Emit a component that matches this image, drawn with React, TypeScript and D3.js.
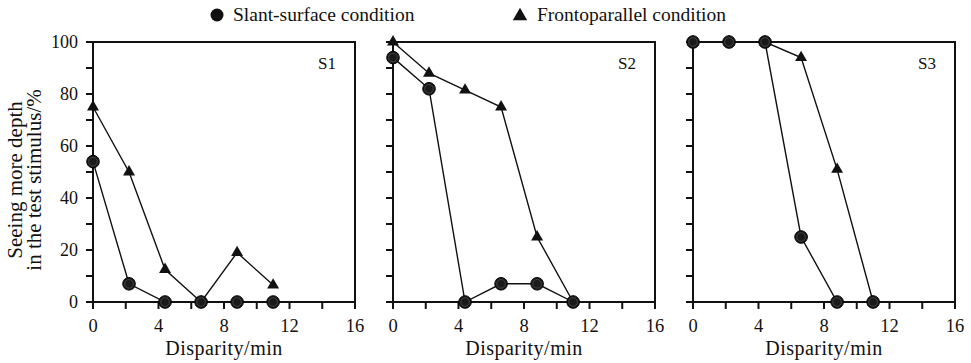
import { useEffect, useState } from "react";
import * as d3 from "d3";

const disparity = [0, 2.2, 4.4, 6.6, 8.8, 11];
const subjects = ["S1", "S2", "S3"];
const slantValues = [
  [54, 7, 0, 0, 0, 0],
  [94, 82, 0, 7, 7, 0],
  [100, 100, 100, 25, 0, 0],
];
const frontoValues = [
  [75, 50, 12.5, 0, 19, 6.5],
  [100, 88, 81.5, 75, 25, 0],
  [100, 100, 100, 94, 51, 0],
];
const xMajor = [0, 4, 8, 12, 16];
const xMinor = [2, 6, 10, 14];
const yMajor = [0, 20, 40, 60, 80, 100];
const yMinor = [10, 30, 50, 70, 90];
const legendLabels = ["Slant-surface condition", "Frontoparallel condition"];

const width = 971;
const height = 363;
const panelLeft = 93;
const panelWidth = 262;
const panelGap = 38;
const plotTop = 42;
const plotBottom = 302;
const serifName = "Liberation Serif";
const serif = { fontFamily: '"Liberation Serif"' };

const triangle = d3.symbol().type(d3.symbolTriangle).size(62)();

const Label = (props: any) => <text fontFamily={serifName} style={serif} {...props} />;

const Panel = ({ index }: { index: number }) => {
  const x0 = panelLeft + index * (panelWidth + panelGap);
  const x = d3.scaleLinear().domain([0, 16]).range([x0, x0 + panelWidth]);
  const y = d3.scaleLinear().domain([0, 100]).range([plotBottom, plotTop]);
  const line = d3
    .line<number>()
    .x((_, i) => x(disparity[i]))
    .y((d) => y(d));

  return (
    <g>
      {/* frame */}
      <rect
        x={x(0)}
        y={y(100)}
        width={x(16) - x(0)}
        height={y(0) - y(100)}
        fill="none"
        stroke="#111"
        strokeWidth={2}
      />
      {/* ticks */}
      {[...xMajor, ...xMinor].map((t) => (
        <line key={"x" + t} x1={x(t)} x2={x(t)} y1={plotBottom} y2={plotBottom + 7} stroke="#111" strokeWidth={2} />
      ))}
      {[...yMajor, ...yMinor].map((t) => (
        <line key={"y" + t} x1={x(0) - 7} x2={x(0)} y1={y(t)} y2={y(t)} stroke="#111" strokeWidth={2} />
      ))}
      {xMajor.map((t) => (
        <Label key={"xl" + t} x={x(t)} y={plotBottom + 30} textAnchor="middle" fontSize={18.5}>
          {t}
        </Label>
      ))}
      {index === 0 &&
        yMajor.map((t) => (
          <Label key={"yl" + t} x={x(0) - 15} y={y(t) + 6} textAnchor="end" fontSize={18}>
            {t}
          </Label>
        ))}
      <Label x={(x(0) + x(16)) / 2} y={plotBottom + 53} textAnchor="middle" fontSize={20} letterSpacing={0.5}>
        Disparity/min
      </Label>
      <Label x={x(16) - 19} y={69} textAnchor="end" fontSize={17}>
        {subjects[index]}
      </Label>

      {/* series */}
      <path d={line(frontoValues[index]) ?? ""} fill="none" stroke="#111" strokeWidth={1.4} />
      <path d={line(slantValues[index]) ?? ""} fill="none" stroke="#111" strokeWidth={1.4} />
      {frontoValues[index].map((v, i) => (
        <path key={"t" + i} d={triangle ?? ""} transform={`translate(${x(disparity[i])},${y(v)})`} fill="#111" />
      ))}
      {slantValues[index].map((v, i) => (
        <g key={"c" + i}>
          <circle cx={x(disparity[i])} cy={y(v)} r={6.3} fill="#1a1a1a" stroke="#000" strokeWidth={1} />
          <circle cx={x(disparity[i])} cy={y(v)} r={4.3} fill="none" stroke="#4a4a4a" strokeWidth={0.8} />
        </g>
      ))}
    </g>
  );
};

export default function App() {
  // make sure the serif face is in before the final paint
  const [fontTick, setFontTick] = useState(0);
  useEffect(() => {
    const fonts = (document as any).fonts;
    if (!fonts) return;
    fonts.load('18px "Liberation Serif"').then(() => setFontTick((n) => n + 1));
  }, []);

  return (
    <svg
      key={fontTick}
      width={width}
      height={height}
      style={{ position: "absolute", left: 0, top: 0, background: "#fff" }}
      fill="#111"
    >
      {/* legend */}
      <circle cx={217} cy={15} r={6.5} fill="#111" />
      <Label x={233} y={21} fontSize={19.5}>
        {legendLabels[0]}
      </Label>
      <path d={d3.symbol().type(d3.symbolTriangle).size(90)() ?? ""} transform="translate(520,16)" fill="#111" />
      <Label x={537} y={21} fontSize={19.5}>
        {legendLabels[1]}
      </Label>

      {/* y axis title */}
      <g transform="translate(0,180) rotate(-90)">
        <Label x={0} y={22} textAnchor="middle" fontSize={21}>
          Seeing more depth
        </Label>
        <Label x={0} y={41} textAnchor="middle" fontSize={21}>
          in the test stimulus/%
        </Label>
      </g>

      {subjects.map((s, i) => (
        <Panel key={s} index={i} />
      ))}
    </svg>
  );
}
